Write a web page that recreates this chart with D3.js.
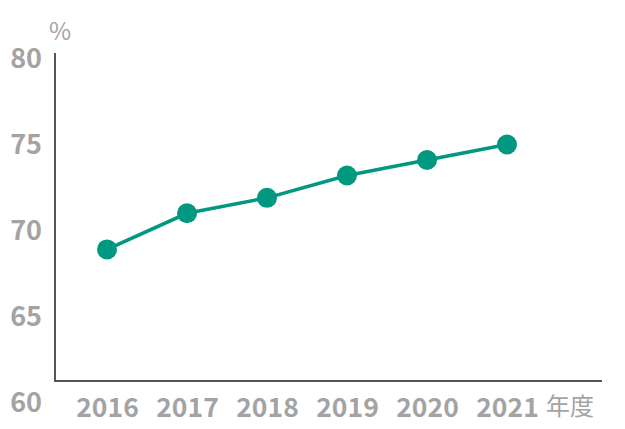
<!DOCTYPE html>
<html><head><meta charset="utf-8">
<script src="https://cdn.jsdelivr.net/npm/d3@7"></script>
<style>body{margin:0;background:#fff;}svg{display:block;}</style>
</head><body>
<script>
const years = ["2016","2017","2018","2019","2020","2021"];
const values = [68.9, 71.0, 71.9, 73.2, 74.1, 75.0];
const yTicks = [60, 65, 70, 75, 80];
const unitLabel = "%";
const xUnitLabel = "年度";

const W = 625, H = 429;
const font = "'Noto Sans CJK JP','Noto Sans',sans-serif";
const gray = "#a3a3a3";
const green = "#00987f";

const svg = d3.select("body").append("svg").attr("width", W).attr("height", H);

const x = d3.scalePoint().domain(years).range([107, 507]);
const y = d3.scaleLinear().domain([60, 80]).range([402.5, 58.5]);

// axis lines
const axisX0 = 55, axisY0 = 381;
svg.append("line").attr("x1", axisX0).attr("x2", axisX0).attr("y1", 53).attr("y2", axisY0 + 1)
  .attr("stroke", "#555").attr("stroke-width", 2);
svg.append("line").attr("x1", axisX0 - 1).attr("x2", 602).attr("y1", axisY0).attr("y2", axisY0)
  .attr("stroke", "#555").attr("stroke-width", 2);

// y tick labels
const yAxis = d3.axisLeft(y).tickValues(yTicks).tickSize(0).tickPadding(0);
const gy = svg.append("g").attr("transform", "translate(42,0)").call(yAxis);
gy.select(".domain").remove();
gy.selectAll("text").attr("font-family", font).attr("font-size", 27).attr("font-weight", 700)
  .attr("fill", gray).attr("dy", "0.35em");

// x tick labels
const xAxis = d3.axisBottom(x).tickSize(0).tickPadding(0);
const gx = svg.append("g").attr("transform", "translate(0,408)").call(xAxis);
gx.select(".domain").remove();
gx.selectAll("text").attr("font-family", font).attr("font-size", 26.5).attr("font-weight", 700)
  .attr("fill", gray).attr("dy", "0.35em");

// unit labels
svg.append("text").attr("x", 60).attr("y", 32).attr("text-anchor", "middle").attr("dy", "0.35em")
  .attr("font-family", font).attr("font-size", 24).attr("fill", gray).text(unitLabel);
svg.append("text").attr("x", 570).attr("y", 407).attr("text-anchor", "middle").attr("dy", "0.35em")
  .attr("font-family", font).attr("font-size", 24).attr("fill", gray).text(xUnitLabel);

// line
const data = years.map((yr, i) => ({yr, v: values[i]}));
svg.append("path").datum(data)
  .attr("d", d3.line().x(d => x(d.yr)).y(d => y(d.v)))
  .attr("fill", "none").attr("stroke", green).attr("stroke-width", 3.5);
svg.selectAll("circle.pt").data(data).join("circle").attr("class", "pt")
  .attr("cx", d => x(d.yr)).attr("cy", d => y(d.v)).attr("r", 10).attr("fill", green);
</script>
</body></html>
